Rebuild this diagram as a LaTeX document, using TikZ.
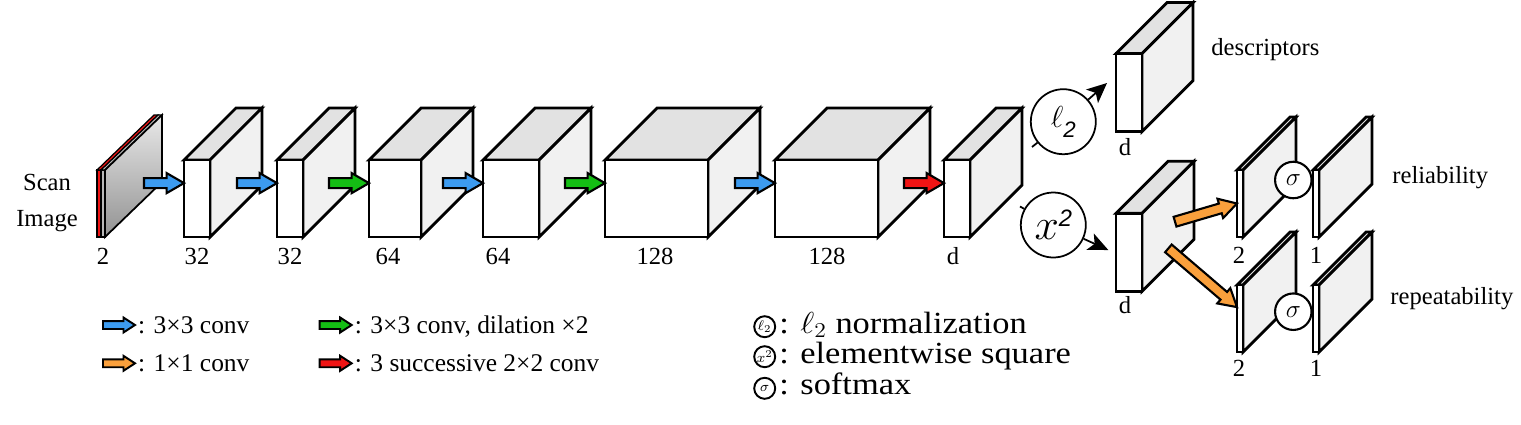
\documentclass[tikz,border=0pt]{standalone}
\usepackage{graphicx}
\usepackage{fontspec}
\setmainfont{Liberation Serif}
\newfontfamily\helv{Liberation Sans}
\usetikzlibrary{shapes.arrows, arrows.meta, calc, positioning}

\definecolor{cblue}{RGB}{60,155,240}
\definecolor{cgreen}{RGB}{20,190,20}
\definecolor{cred}{RGB}{240,20,20}
\definecolor{corange}{RGB}{250,160,60}
\definecolor{topgray}{RGB}{226,226,226}
\definecolor{sidegray}{RGB}{241,241,241}

\newcommand{\pxl}{0.02cm}
\newcommand{\widetext}[1]{\scalebox{1.12}[1]{#1}}

% cuboid: name, left x, top y, width, height, depth
\newcommand{\cuboid}[6]{%
  \filldraw[fill=topgray] (#2,#3) -- ++(#6,-#6) -- ++(#4,0) -- ++(-#6,#6) -- cycle;
  \filldraw[fill=sidegray] (#2+#4,#3) -- ++(#6,-#6) -- ++(0,#5) -- ++(-#6,#6) -- cycle;
  \node[frontface, minimum width=#4*\pxl, minimum height=#5*\pxl, anchor=north west] (#1) at (#2,#3) {};
}

% fat arrow between two points: name, colour, from, to
\newcommand{\fatarrow}[4]{%
  \path let \p1=($(#4)-(#3)$) in
    node[convarr, fill=#2, rotate={atan2(\y1,\x1)}, minimum height={veclen(\x1,\y1)}, anchor=tip] (#1) at (#4) {};
}

\begin{document}
\begin{tikzpicture}[
    x=0.02cm, y=-0.02cm,
    line width=1.6pt, line join=miter,
    font=\fontsize{14}{16}\selectfont,
    frontface/.style={rectangle, draw, fill=white, inner sep=0pt, outer sep=0pt},
    convarr/.style={single arrow, draw=black, line width=1.2pt, inner xsep=0pt, inner ysep=0.08cm,
        single arrow head extend=0.1cm, single arrow tip angle=60, minimum height=0.8cm, outer sep=0pt},
    legarr/.style={line width=1.1pt, inner ysep=0.06cm, single arrow head extend=0.07cm,
        single arrow tip angle=66, minimum height=0.64cm},
    lbl/.style={anchor=base, inner sep=0pt},
    legtext/.style={anchor=base west, inner sep=1pt, font=\fontsize{14.5}{16}\selectfont},
    optext/.style={anchor=base west, inner sep=0pt, font=\fontsize{17.5}{18}\selectfont},
    opcirc/.style={circle, draw, fill=white, line width=1pt, inner sep=0pt, minimum size=1.3cm},
    sigcirc/.style={circle, draw, fill=white, line width=1.2pt, inner sep=0pt, minimum size=0.73cm},
    legcirc/.style={circle, draw, fill=white, line width=1.1pt, inner sep=0pt, minimum size=0.42cm,
        font=\fontsize{8.5}{9}\selectfont},
    outline/.style={line width=1pt, -{Stealth[length=0.4cm, width=0.36cm, inset=0.1cm]}},
]
    \useasboundingbox (0,0) rectangle (1521,424);

    % Input scan
    \node[align=center, font=\fontsize{14}{20}\selectfont] (scan) at (47,203) {Scan\\Image};
    \begin{scope}[line width=0.7pt]
        \filldraw[fill=cred] (97,170) rectangle (101,237);
        \filldraw[fill=cred] (97,170) -- ++(57,-55) -- ++(4,0) -- ++(-57,55) -- cycle;
        \filldraw[fill=gray!55] (101,170) rectangle (105,237);
        \filldraw[fill=gray!55] (101,170) -- ++(57,-55) -- ++(4,0) -- ++(-57,55) -- cycle;
        \draw[top color=gray!18, bottom color=gray!85, line width=1pt] (105,170) -- ++(57,-55) -- ++(0,67) -- ++(-57,55) -- cycle;
    \end{scope}
    \node[lbl] (n0) at (103,264) {2};

    % Backbone
    \cuboid{b1}{184}{160}{26}{77}{52}
    \cuboid{b2}{277}{160}{26}{77}{52}
    \cuboid{b3}{369}{160}{52}{77}{52}
    \cuboid{b4}{483}{160}{56}{77}{52}
    \cuboid{b5}{605}{160}{103}{77}{52}
    \cuboid{b6}{775}{160}{103}{77}{52}
    \cuboid{b7}{944}{160}{26}{77}{52}

    \node[lbl] (n1) at (197,264) {32};
    \node[lbl] (n2) at (290,264) {32};
    \node[lbl] (n3) at (388,264) {64};
    \node[lbl] (n4) at (498,264) {64};
    \node[lbl] (n5) at (655,264) {128};
    \node[lbl] (n6) at (827,264) {128};
    \node[lbl] (n7) at (953,264) {d};

    \node[convarr, fill=cblue, anchor=tip] (a1) at ($(b1.north west)!0.3!(b1.south west)$) {};
    \node[convarr, fill=cblue, anchor=tip] (a2) at ($(b2.north west)!0.3!(b2.south west)$) {};
    \node[convarr, fill=cgreen, anchor=tip] (a3) at ($(b3.north west)!0.3!(b3.south west)$) {};
    \node[convarr, fill=cblue, anchor=tip] (a4) at ($(b4.north west)!0.3!(b4.south west)$) {};
    \node[convarr, fill=cgreen, anchor=tip] (a5) at ($(b5.north west)!0.3!(b5.south west)$) {};
    \node[convarr, fill=cblue, anchor=tip] (a6) at ($(b6.north west)!0.3!(b6.south west)$) {};
    \node[convarr, fill=cred, anchor=tip] (a7) at ($(b7.north west)!0.3!(b7.south west)$) {};

    % Descriptor branch
    \cuboid{dsc}{1116}{53.5}{26}{78}{51}
    \node[lbl] (n8) at (1125,155) {d};
    \node[anchor=base west, inner sep=0pt] (tdsc) at (1210,55) {descriptors};
    \node[opcirc] (l2) at (1063.3,121.7) {\raisebox{-0.07cm}{\fontsize{18.6}{20}\selectfont$\ell$\raisebox{-0.2cm}{\fontsize{12.7}{13}\helv\itshape 2}}};
    \coordinate (l2in) at (1032,147);
    \coordinate (l2out) at (1107,83);
    \draw[line width=1pt] (l2in) -- (l2);
    \draw[outline] (l2) -- (l2out);

    % Detector branch
    \cuboid{hd}{1116}{213.3}{26}{78}{52}
    \node[lbl] (n9) at (1125,313) {d};
    \node[opcirc] (sq) at (1053.3,225) {\fontsize{23}{24}\selectfont$x$\raisebox{0.26cm}{\fontsize{13.5}{14}\helv\itshape 2}};
    \coordinate (sqin) at (1020,206.5);
    \coordinate (sqout) at (1108.3,250);
    \draw[line width=1pt] (sqin) -- (sq);
    \draw[outline] (sq) -- (sqout);

    \cuboid{sA}{1237}{170}{6}{67}{53}
    \cuboid{sB}{1313}{170}{6}{67}{53}
    \cuboid{sC}{1237}{285}{6}{67}{53}
    \cuboid{sD}{1313}{285}{6}{67}{53}
    \node[sigcirc] (s1) at (1293.3,180) {\fontsize{15}{15}\selectfont$\sigma$};
    \node[sigcirc] (s2) at (1293.3,311.7) {\fontsize{15}{15}\selectfont$\sigma$};

    \coordinate (o1s) at (1175,221.7);
    \coordinate (o1t) at ($(sA.north west)!0.5!(sA.south west)$);
    \coordinate (o2s) at (1168.3,248.3);
    \coordinate (o2t) at ($(sC.north west)!0.33!(sC.south west)$);
    \fatarrow{o1}{corange}{o1s}{o1t}
    \fatarrow{o2}{corange}{o2s}{o2t}

    \node[lbl] (n10) at (1239,263) {2};
    \node[lbl] (n11) at (1316,263) {1};
    \node[lbl] (n12) at (1239,376) {2};
    \node[lbl] (n13) at (1316,376) {1};
    \node[anchor=base west, inner sep=0pt] (trel) at (1391,183) {reliability};
    \node[anchor=base west, inner sep=0pt] (trep) at (1389,304) {repeatability};

    % Legend
    \node[convarr, legarr, fill=cblue, anchor=tip] (k1) at (135,325) {};
    \node[legtext] (t1) at ([yshift=-0.16cm]k1.tip) {: 3×3 conv};
    \node[convarr, legarr, fill=corange, anchor=tip] (k2) at (135,363.3) {};
    \node[legtext] (t2) at ([yshift=-0.16cm]k2.tip) {: 1×1 conv};
    \node[convarr, legarr, fill=cgreen, anchor=tip] (k3) at (351.7,325) {};
    \node[legtext] (t3) at ([yshift=-0.16cm]k3.tip) {: 3×3 conv, dilation ×2};
    \node[convarr, legarr, fill=cred, anchor=tip] (k4) at (351.7,363.3) {};
    \node[legtext] (t4) at ([yshift=-0.16cm]k4.tip) {: 3 successive 2×2 conv};

    \node[legcirc] (c1) at (764.7,326.7) {$\ell_2$};
    \node[optext] (t5) at ([xshift=1pt, yshift=-0.13cm]c1.east) {\widetext{: $\ell_2$ normalization}};
    \node[legcirc] (c2) at (764.7,356.7) {$x^2$};
    \node[optext] (t6) at ([xshift=1pt, yshift=-0.13cm]c2.east) {\widetext{: elementwise square}};
    \node[legcirc] (c3) at (764.7,388.3) {$\sigma$};
    \node[optext] (t7) at ([xshift=1pt, yshift=-0.13cm]c3.east) {\widetext{: softmax}};
\end{tikzpicture}
\end{document}
